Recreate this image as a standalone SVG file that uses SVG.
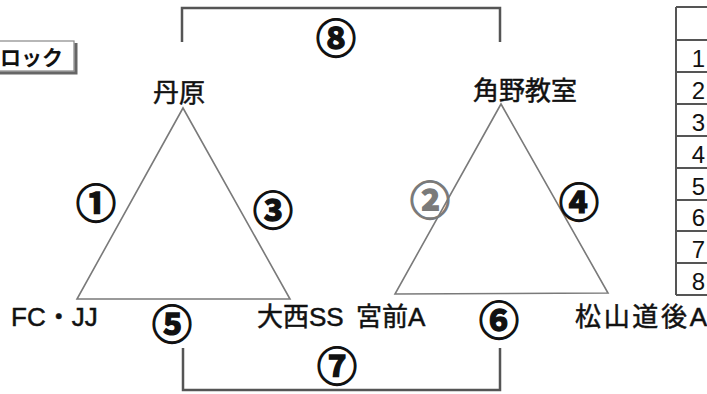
<svg xmlns="http://www.w3.org/2000/svg" width="707" height="394" viewBox="0 0 707 394">
<style>
.lbl{font-family:"Liberation Sans","Noto Sans CJK JP",sans-serif;font-size:26px;fill:#111;stroke:#111;stroke-width:0.5}
.cn{font-family:"Noto Sans CJK JP",sans-serif;font-weight:bold;font-size:40px;fill:#111;stroke:#111;stroke-width:1.3;text-anchor:middle;dominant-baseline:central}
.edge{stroke:#7a7a7a;stroke-width:1.6;fill:none}
.brk{stroke:#555;stroke-width:2.5;fill:none}
.tbl{stroke:#555;stroke-width:2;fill:none}
.num{font-family:"Liberation Sans",sans-serif;font-size:24px;fill:#111;text-anchor:end}
</style>
<rect width="707" height="394" fill="#fff"/>
<g id="block-title">
  <rect x="-6" y="41" width="80" height="30" fill="#fff" stroke="#888" stroke-width="1.2"/>
  <path d="M76,43 V73 H-6" stroke="#666" stroke-width="3" fill="none"/>
  <text x="0" y="65" font-family="Noto Sans CJK JP,sans-serif" font-weight="bold" font-size="21" fill="#111">ロック</text>
</g>
<g id="connectors">
  <path class="edge" d="M183,108 L77,299 L290,299 Z"/>
  <path class="edge" d="M501,104 L395,294 L608,293 Z"/>
  <path class="brk" d="M182,42 V8 H500 V42"/>
  <path class="brk" d="M183,348 V390 H500 V348"/>
  <text class="cn" x="96" y="201">①</text>
  <text class="cn" x="430" y="198" style="fill:#7a7a7a;stroke:#7a7a7a">②</text>
  <text class="cn" x="273" y="208">③</text>
  <text class="cn" x="579" y="200">④</text>
  <text class="cn" x="172" y="322">⑤</text>
  <text class="cn" x="499" y="318">⑥</text>
  <text class="cn" x="337" y="364" font-size="38">⑦</text>
  <text class="cn" x="336" y="36">⑧</text>
</g>
<g id="node-tanbara"><text class="lbl" x="153" y="102" font-size="27">丹原</text></g>
<g id="node-kadono"><text class="lbl" x="473" y="100" font-size="29">角野教室</text></g>
<g id="node-fcjj"><text class="lbl" x="11" y="326">FC・JJ</text></g>
<g id="node-onishi"><text class="lbl" x="257" y="326">大西SS</text></g>
<g id="node-miyamae"><text class="lbl" x="356" y="326">宮前A</text></g>
<g id="node-matsuyama"><text class="lbl" x="575" y="326" textLength="132">松山道後A</text></g>
<g id="table">
  <path class="tbl" d="M676,7 V295"/>
  <path class="tbl" d="M676,7 H707 M676,40 H707 M676,72 H707 M676,104 H707 M676,136 H707 M676,168 H707 M676,200 H707 M676,231 H707 M676,263 H707 M676,295 H707"/>
  <text class="num" x="705" y="67">1</text>
  <text class="num" x="705" y="99">2</text>
  <text class="num" x="705" y="131">3</text>
  <text class="num" x="705" y="163">4</text>
  <text class="num" x="705" y="195">5</text>
  <text class="num" x="705" y="226">6</text>
  <text class="num" x="705" y="258">7</text>
  <text class="num" x="705" y="290">8</text>
</g>
</svg>
